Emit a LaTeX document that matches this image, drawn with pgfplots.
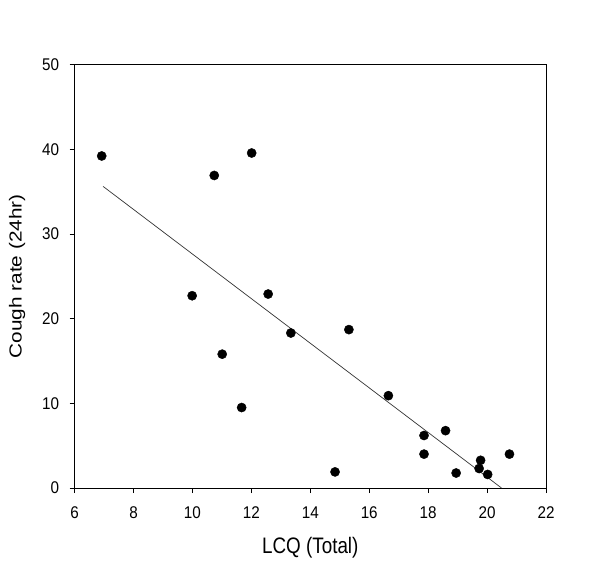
\documentclass[border=0pt]{standalone}
\usepackage{pgfplots}
\pgfplotsset{compat=1.18}
\usepackage{fontspec}
\setmainfont{Liberation Sans}
% the reference looks stretched vertically, so squeeze the horizontal texts
\newfontfamily\sqfont{Liberation Sans}[FakeStretch=0.84]
\newfontfamily\tkfont{Liberation Sans}[FakeStretch=0.9]
\newfontfamily\stfont{Liberation Sans}[FakeStretch=1.19]

\begin{document}
\begin{tikzpicture}
\path[use as bounding box] (0bp,0bp) rectangle (600bp,563bp);
\begin{axis}[
    at={(74.6bp,75bp)}, anchor=south west,
    scale only axis,
    width=471.4bp, height=423.5bp,
    xmin=6, xmax=22, ymin=0, ymax=50,
    xtick={6,8,...,22},
    ytick={0,10,...,50},
    tick align=outside,
    major tick length=5bp,
    axis line style={line width=0.8bp},
    tick style={line width=0.6bp, black},
    xtick pos=bottom, ytick pos=left,
    ticklabel style={font=\fontsize{17}{19}\tkfont, inner sep=0pt},
    xticklabel style={anchor=north, yshift=-13.7bp},
    yticklabel style={anchor=east, xshift=-10.3bp},
    /pgf/number format/assume math mode=true,
    xlabel={LCQ (Total)},
    ylabel={Cough rate (24hr)},
    xlabel style={font=\fontsize{22.5}{25}\sqfont, inner sep=0pt,
        at={(axis description cs:0.5,-0.1417)}, anchor=center},
    ylabel style={font=\fontsize{17.5}{20}\stfont, inner sep=0pt,
        at={(axis description cs:-0.1222,0.5)}, anchor=center},
    clip=false
]
\addplot[only marks, mark=*, mark size=4.6bp, black] coordinates {
    (6.92,39.2) (10.74,36.9) (12.01,39.55) (9.99,22.7) (12.57,22.9)
    (13.34,18.3) (15.31,18.7) (11.01,15.8) (11.67,9.5) (16.65,10.9)
    (17.86,6.2) (18.59,6.77) (17.86,4.0) (14.84,1.9) (18.95,1.77)
    (19.78,3.27) (19.73,2.3) (20.02,1.6) (20.76,4.0)
};
\addplot[black!80, line width=0.7bp] coordinates {(6.97,35.6) (20.49,0)};
\end{axis}
\end{tikzpicture}
\end{document}
